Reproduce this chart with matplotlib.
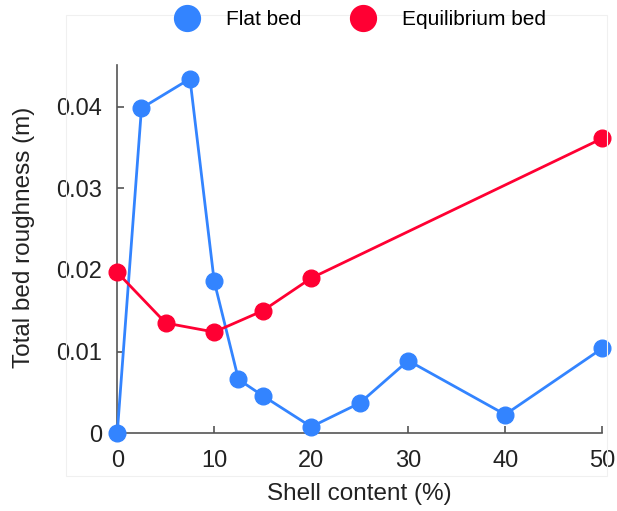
import matplotlib
matplotlib.use("Agg")
import matplotlib.pyplot as plt
from matplotlib.patches import Rectangle

plt.rcParams['font.family'] = ['Liberation Sans', 'DejaVu Sans']

# Shell content (%) and total bed roughness (m)
flat_x = [0, 2.5, 7.5, 10, 12.5, 15, 20, 25, 30, 40, 50]
flat_y = [0.0, 0.0398, 0.0434, 0.0186, 0.0066, 0.0046, 0.0008, 0.0037, 0.0089, 0.0023, 0.0104]

eq_x = [0, 5, 10, 15, 20, 50]
eq_y = [0.0197, 0.0135, 0.0124, 0.0150, 0.0190, 0.0361]

x_ticks = [0, 10, 20, 30, 40, 50]
y_ticks = [0, 0.01, 0.02, 0.03, 0.04]
y_tick_labels = ["0", "0.01", "0.02", "0.03", "0.04"]

blue = "#3384ff"
red = "#ff0033"
axis_grey = "#555555"
text_col = "#222222"

fig = plt.figure(figsize=(6.17, 5.11), dpi=100)
fig.patches.append(Rectangle((0.107, 0.068), 0.877, 0.903, transform=fig.transFigure,
                             fill=False, edgecolor="#f0f0f0", linewidth=0.8))
ax = fig.add_axes([0.19, 0.152, 0.786, 0.721])

l1, = ax.plot(flat_x, flat_y, color=blue, lw=2, marker='o', ms=12, clip_on=False,
              zorder=3, label="Flat bed")
l2, = ax.plot(eq_x, eq_y, color=red, lw=2, marker='o', ms=12, clip_on=False,
              zorder=3, label="Equilibrium bed")

ax.set_xlim(0, 50)
ax.set_ylim(0, 0.0451)
ax.set_xticks(x_ticks)
ax.set_yticks(y_ticks)
ax.set_yticklabels(y_tick_labels)

for s in ['top', 'right']:
    ax.spines[s].set_visible(False)
for s in ['left', 'bottom']:
    ax.spines[s].set_color(axis_grey)
    ax.spines[s].set_linewidth(1.2)

ax.tick_params(direction='in', length=5, width=1.2, color=axis_grey,
               labelsize=17, labelcolor=text_col)
ax.tick_params(axis='x', pad=12)
ax.tick_params(axis='y', pad=11)

ax.set_xlabel("Shell content (%)", fontsize=17.5, color=text_col, labelpad=8)
ax.set_ylabel("Total bed roughness (m)", fontsize=17.5, color=text_col, va='center')
ax.yaxis.set_label_coords(-0.192, 0.531)

leg = fig.legend(handles=[l1, l2], loc='center', bbox_to_anchor=(0.573, 0.962), ncol=2,
                 frameon=False, fontsize=15, markerscale=1.55, handlelength=2.4,
                 columnspacing=1.76, handletextpad=0.67)
for h in leg.legend_handles:
    h.set_linestyle('none')

fig.savefig("out.png", dpi=100)
